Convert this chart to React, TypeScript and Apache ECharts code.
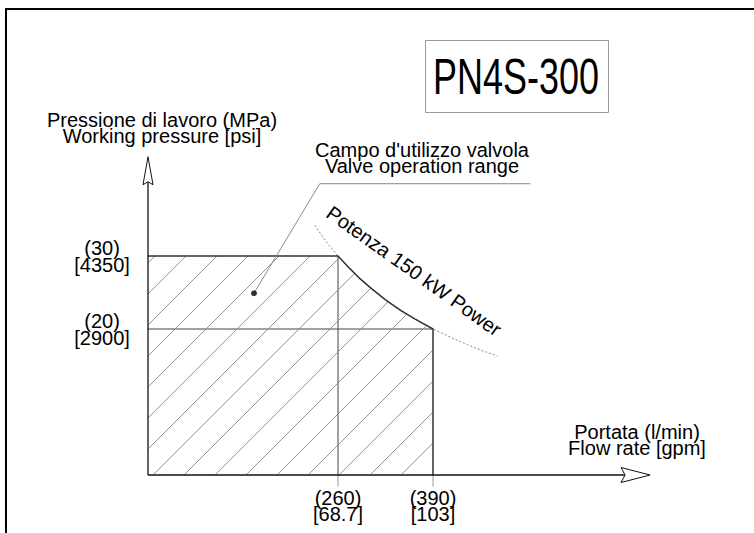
import React, { useEffect, useRef } from "react";
import * as echarts from "echarts";

// Axis ranges (flow l/min, pressure MPa)
const flowMax = 700;
const pressureMax = 45;
const flowAxisEnd = 687;
const pressureAxisEnd = 43.6;

// Tick values and labels
const flowTicks = [260, 390];
const flowTickLabels = ["(260)\n[68.7]", "(390)\n[103]"];
const pressureTicks = [20, 30];
const pressureTickLabels = ["(20)\n[2900]", "(30)\n[4350]"];

// Operating range outline (flow, pressure)
const rangeOutline: number[][] = [
  [0, 0], [0, 30], [260, 30], [275, 28.4], [290, 26.9], [305, 25.6], [325, 24],
  [345, 22.6], [365, 21.4], [390, 20], [390, 0],
];

// 150 kW power curve (dotted)
const powerCurve: number[][] = [
  [228, 34.2], [245, 31.8], [260, 30], [290, 26.9], [325, 24], [360, 21.7],
  [390, 20], [420, 18.6], [450, 17.3], [478, 16.3],
];

// Reference lines
const refH20: number[][] = [[0, 20], [390, 20]];
const refV260: number[][] = [[260, 0], [260, 30]];
const stubs: number[][][] = [
  [[-15, 30], [0, 30]],
  [[-15, 20], [0, 20]],
  [[260, -1.6], [260, 0]],
  [[390, -1.6], [390, 0]],
];

// Leader line for the range label
const leader: number[][] = [[145, 24.9], [235, 39.9], [523, 39.9]];

const FONT = "'Liberation Sans', Arial, Helvetica, sans-serif";

export default function App() {
  const ref = useRef<HTMLDivElement>(null);

  useEffect(() => {
    if (!ref.current) return;
    const chart = echarts.init(ref.current, null, { renderer: "svg" });

    const lineSeries = (name: string, data: number[][], color: string, width = 1, type: any = "solid", z = 2) => ({
      type: "line",
      name,
      data,
      symbol: "none",
      clip: false,
      silent: true,
      z,
      lineStyle: { color, width, type },
    });

    const option: any = {
      animation: false,
      backgroundColor: "#ffffff",
      textStyle: { fontFamily: FONT },
      grid: { left: 148, right: 754 - 148 - flowMax * 0.7308, top: 475 - pressureMax * 7.3, bottom: 58 },
      xAxis: {
        type: "value",
        min: 0,
        max: flowMax,
        axisLine: { show: false },
        axisTick: { show: false },
        splitLine: { show: false },
        axisLabel: {
          customValues: flowTicks,
          formatter: (v: number) => flowTickLabels[flowTicks.indexOf(v)] ?? "",
          fontSize: 20,
          lineHeight: 16,
          margin: 15,
          color: "#000",
          fontFamily: FONT,
        },
      },
      yAxis: {
        type: "value",
        min: 0,
        max: pressureMax,
        axisLine: { show: false },
        axisTick: { show: false },
        splitLine: { show: false },
        axisLabel: {
          customValues: pressureTicks,
          formatter: (v: number) => pressureTickLabels[pressureTicks.indexOf(v)] ?? "",
          fontSize: 20,
          lineHeight: 17,
          margin: 46,
          align: "center",
          color: "#000",
          fontFamily: FONT,
        },
      },
      series: [
        {
          type: "custom",
          name: "Valve operation range",
          z: 3,
          silent: true,
          data: [[0, 0]],
          renderItem: (_p: any, api: any) => {
            const pts = rangeOutline.map((p) => api.coord(p));
            const o = api.coord([0, 0]);
            const c0 = o[0] + o[1] + 5;
            const sums = pts.map((p) => p[0] + p[1]);
            const minS = Math.min(...sums);
            const maxS = Math.max(...sums);
            const step = 31;
            const children: any[] = [];
            const k = Math.ceil((minS - c0) / step);
            for (let c = c0 + k * step; c < maxS; c += step) {
              const hits: number[][] = [];
              for (let i = 0; i < pts.length; i++) {
                const P = pts[i];
                const Q = pts[(i + 1) % pts.length];
                const sP = P[0] + P[1];
                const sQ = Q[0] + Q[1];
                if ((sP - c) * (sQ - c) < 0 || (sP === c && sQ !== c)) {
                  const t = (c - sP) / (sQ - sP);
                  hits.push([P[0] + t * (Q[0] - P[0]), P[1] + t * (Q[1] - P[1])]);
                }
              }
              hits.sort((a, b) => a[0] - b[0]);
              for (let j = 0; j + 1 < hits.length; j += 2) {
                children.push({
                  type: "line",
                  shape: { x1: hits[j][0], y1: hits[j][1], x2: hits[j + 1][0], y2: hits[j + 1][1] },
                  style: { stroke: "#8a8a8a", lineWidth: 0.9 },
                });
              }
            }
            children.push({
              type: "polyline",
              shape: { points: pts.slice(1) },
              style: { stroke: "#333", lineWidth: 1.5, fill: null },
            });
            return { type: "group", children };
          },
        },
        lineSeries("Potenza 150 kW Power", powerCurve, "#888", 1, [2, 2], 2),
        lineSeries("Ref 20 MPa", refH20, "#444", 1),
        lineSeries("Ref 260 l/min", refV260, "#444", 1),
        ...stubs.map((s, i) => lineSeries("Tick " + i, s, "#999", 1)),
        lineSeries("Leader", leader, "#8a8a8a", 1, "solid", 4),
        {
          type: "scatter",
          name: "Leader point",
          data: [leader[0]],
          symbol: "circle",
          symbolSize: 6,
          itemStyle: { color: "#000" },
          silent: true,
          z: 5,
        },
        {
          type: "custom",
          name: "Axes",
          z: 6,
          silent: true,
          data: [[0, 0]],
          renderItem: (_p: any, api: any) => {
            const o = api.coord([0, 0]);
            const xe = api.coord([flowAxisEnd, 0]);
            const ye = api.coord([0, pressureAxisEnd]);
            const stroke = "#111";
            return {
              type: "group",
              children: [
                { type: "line", shape: { x1: o[0], y1: o[1], x2: xe[0] - 24, y2: o[1] }, style: { stroke, lineWidth: 1.3 } },
                { type: "line", shape: { x1: o[0], y1: o[1], x2: o[0], y2: ye[1] + 24 }, style: { stroke, lineWidth: 1.3 } },
                {
                  type: "polygon",
                  shape: { points: [[xe[0], xe[1]], [xe[0] - 29, xe[1] - 7.5], [xe[0] - 25, xe[1]], [xe[0] - 29, xe[1] + 7.5]] },
                  style: { stroke, lineWidth: 1, fill: "#fff" },
                },
                {
                  type: "polygon",
                  shape: { points: [[ye[0], ye[1]], [ye[0] - 5, ye[1] + 28], [ye[0], ye[1] + 25], [ye[0] + 5, ye[1] + 28]] },
                  style: { stroke, lineWidth: 1, fill: "#fff" },
                },
              ],
            };
          },
        },
      ],
      graphic: [
        { type: "line", shape: { x1: 5, y1: 9, x2: 754, y2: 9 }, style: { stroke: "#000", lineWidth: 2 } },
        { type: "line", shape: { x1: 6, y1: 8, x2: 6, y2: 533 }, style: { stroke: "#000", lineWidth: 2 } },
        { type: "rect", shape: { x: 425.5, y: 40.5, width: 183, height: 72 }, style: { stroke: "#999", lineWidth: 1, fill: "#fff" } },
        {
          type: "text", x: 516, y: 77, scaleX: 0.72,
          style: { text: "PN4S-300", font: `50px ${FONT}`, fill: "#000", textAlign: "center", textVerticalAlign: "middle" },
        },
        {
          type: "text", x: 162, y: 128,
          style: { text: "Pressione di lavoro (MPa)\nWorking pressure [psi]", font: `20px ${FONT}`, lineHeight: 16, fill: "#000", textAlign: "center", textVerticalAlign: "middle" },
        },
        {
          type: "text", x: 637, y: 440,
          style: { text: "Portata (l/min)\nFlow rate [gpm]", font: `20px ${FONT}`, lineHeight: 16, fill: "#000", textAlign: "center", textVerticalAlign: "middle" },
        },
        {
          type: "text", x: 422, y: 158,
          style: { text: "Campo d'utilizzo valvola\nValve operation range", font: `20px ${FONT}`, lineHeight: 16, fill: "#000", textAlign: "center", textVerticalAlign: "middle" },
        },
        {
          type: "text", x: 414, y: 271, rotation: -35.4 * Math.PI / 180,
          style: { text: "Potenza 150 kW Power", font: `20px ${FONT}`, fill: "#000", textAlign: "center", textVerticalAlign: "middle" },
        },
      ],
    };

    chart.setOption(option);
    return () => chart.dispose();
  }, []);

  return (
    <div
      ref={ref}
      style={{ position: "fixed", left: 0, top: 0, width: 754, height: 533, background: "#fff" }}
    />
  );
}
